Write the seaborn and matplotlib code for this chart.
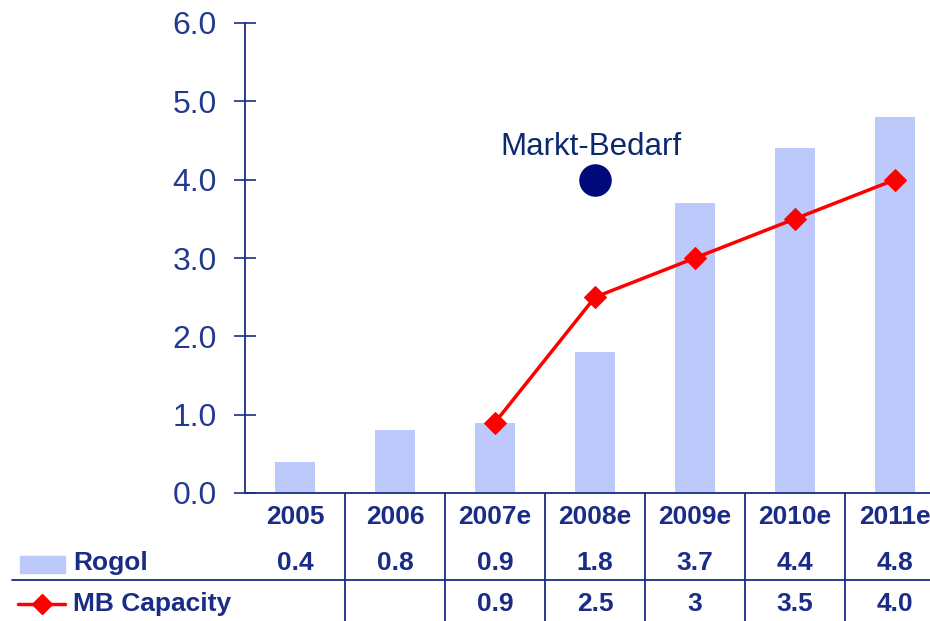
import matplotlib
matplotlib.use("Agg")
import matplotlib.pyplot as plt
import seaborn as sns
import numpy as np
import pandas as pd
from matplotlib.lines import Line2D
from matplotlib.patches import Rectangle
from matplotlib.transforms import blended_transform_factory

years = ["2005", "2006", "2007e", "2008e", "2009e", "2010e", "2011e"]
rogol = [0.4, 0.8, 0.9, 1.8, 3.7, 4.4, 4.8]
mb_capacity = [np.nan, np.nan, 0.9, 2.5, 3.0, 3.5, 4.0]
mb_labels = ["", "", "0.9", "2.5", "3", "3.5", "4.0"]
rogol_labels = ["0.4", "0.8", "0.9", "1.8", "3.7", "4.4", "4.8"]
markt_x, markt_y = 3, 4.0
yticks = [0.0, 1.0, 2.0, 3.0, 4.0, 5.0, 6.0]

sns.set_theme(style="white")
plt.rcParams['font.family'] = ['Liberation Sans', 'DejaVu Sans']

NAVY = "#1A2C86"
TICK = "#22398F"
BAR = "#BCC9FA"
RED = "#FF0000"

fig = plt.figure(figsize=(9.3, 6.21), dpi=100)
W, H = 930, 621
ax = fig.add_axes([245 / W, (H - 493) / H, 1 - 245 / W, (493 - 23) / H])

df = pd.DataFrame({"year": years, "rogol": rogol, "mb": mb_capacity})
df["pos"] = np.arange(len(years))
sns.barplot(data=df, x="year", y="rogol", color=BAR, width=0.4, ax=ax,
            saturation=1, edgecolor="none")
dmb = df.dropna(subset=["mb"])
sns.lineplot(data=dmb, x="pos", y="mb", color=RED, lw=2.5, marker="D",
             markersize=11, markeredgecolor=RED, ax=ax, legend=False)
sns.scatterplot(x=[markt_x], y=[markt_y], s=470, color="#000A7A",
                edgecolor="#000A7A", ax=ax, legend=False, zorder=5)
ax.text(markt_x - 0.04, markt_y + 0.42, "Markt-Bedarf", ha="center", va="center",
        fontsize=22.5, color="#0B2A6E")

ax.set_xlim(-0.5, -0.5 + (W - 245) / 100)
ax.set_ylim(0, 6)
ax.set_yticks(yticks)
ax.set_yticklabels([f"{v:.1f}" for v in yticks], fontsize=23, color=TICK)
ax.set_xticks([])
ax.set_xlabel("")
ax.set_ylabel("")
ax.tick_params(axis="y", direction="inout", length=16.5, width=1.2, color=NAVY,
               left=True, pad=12)
for s in ["top", "right"]:
    ax.spines[s].set_visible(False)
for s in ["left", "bottom"]:
    ax.spines[s].set_color(NAVY)
    ax.spines[s].set_linewidth(1.3)

def fy(py):
    return (H - py) / H

tr = blended_transform_factory(ax.transData, fig.transFigure)
FS = 19
for i, y in enumerate(years):
    ax.text(i, fy(517), y, transform=tr, ha="center", va="center",
            fontsize=FS, fontweight="bold", color=NAVY, clip_on=False)
    ax.text(i, fy(563), rogol_labels[i], transform=tr, ha="center", va="center",
            fontsize=FS, fontweight="bold", color=NAVY, clip_on=False)
    if mb_labels[i]:
        ax.text(i, fy(604), mb_labels[i], transform=tr, ha="center", va="center",
                fontsize=FS, fontweight="bold", color=NAVY, clip_on=False)
for i in range(len(years) - 1):
    ax.add_line(Line2D([i + 0.5, i + 0.5], [fy(493), fy(621)], transform=tr,
                       color=NAVY, lw=1.3, clip_on=False))
fig.add_artist(Line2D([12 / W, 1], [fy(580), fy(580)], color=NAVY, lw=1.3))

fig.add_artist(Rectangle((20 / W, fy(573)), 45 / W, 17 / H, color=BAR,
                         transform=fig.transFigure))
fig.add_artist(Line2D([18 / W, 65 / W], [fy(604), fy(604)], color=RED, lw=2.5))
fig.add_artist(Line2D([41.5 / W], [fy(604)], color=RED, marker="D", markersize=10))
fig.text(73 / W, fy(563), "Rogol", ha="left", va="center", fontsize=FS,
         fontweight="bold", color=NAVY)
fig.text(73 / W, fy(604), "MB Capacity", ha="left", va="center", fontsize=FS,
         fontweight="bold", color=NAVY)

fig.savefig("out.png", dpi=100)
